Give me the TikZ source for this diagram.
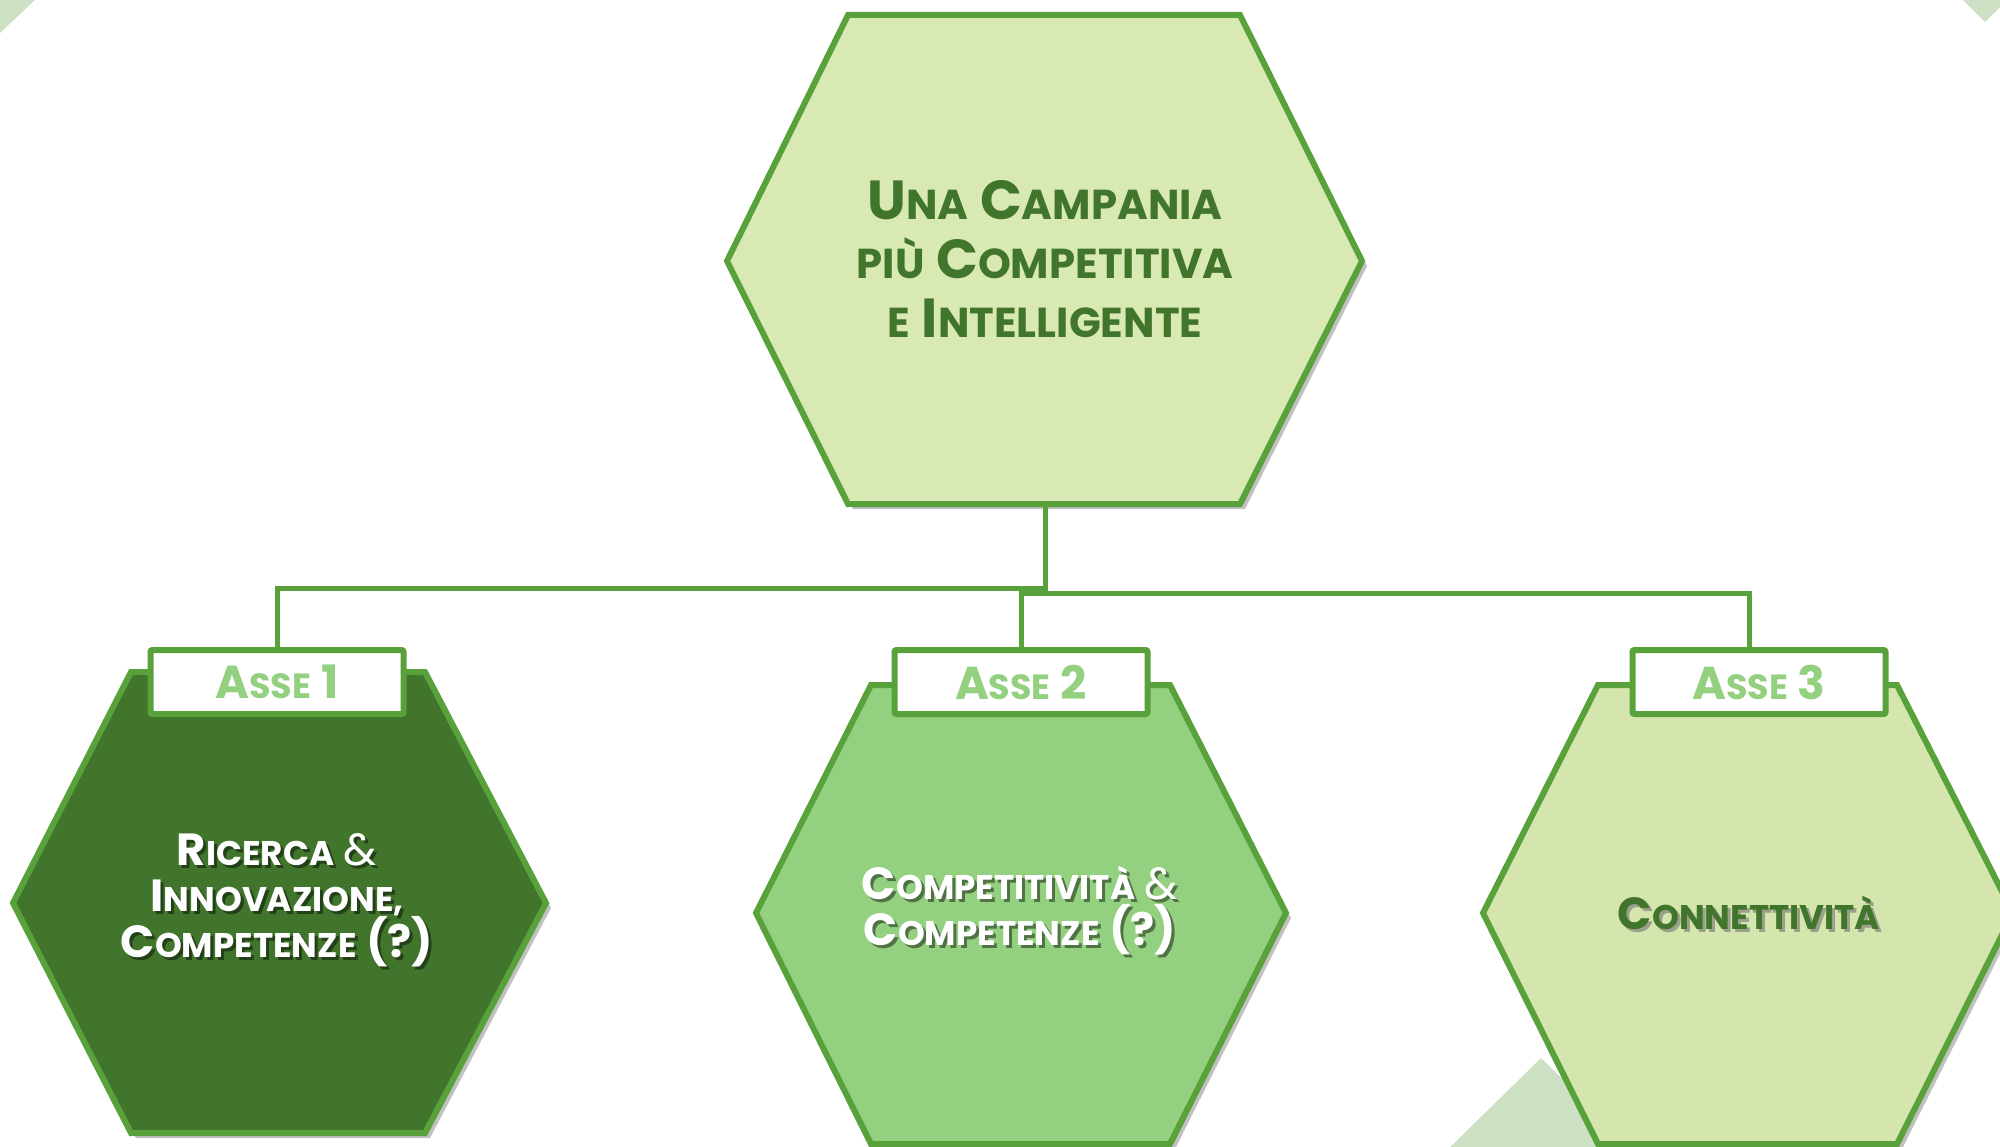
\documentclass[tikz,border=0pt]{standalone}
\usepackage{fontspec}
\usepackage{graphicx}
\setmainfont{Poppins}
\usetikzlibrary{shadows}
\definecolor{bord}{HTML}{58A13B}
\definecolor{topfill}{HTML}{D8E9B3}
\definecolor{darkg}{HTML}{41752C}
\definecolor{midg}{HTML}{93D07F}
\definecolor{lightfill}{HTML}{D4E6AD}
\definecolor{bgtri}{HTML}{CCE1C4}
\newcommand\SC[1]{\scalebox{0.76}{#1}}
\newcommand\amp{{\mdseries\&}}
\newcommand\tOne{R\SC{ICERCA} \amp\\I\SC{NNOVAZIONE,}\\C\SC{OMPETENZE} (?)}
\newcommand\tTwo{C\SC{OMPETITIVIT\`A} \amp\\C\SC{OMPETENZE} (?)}
\newcommand\tThree{C\SC{ONNETTIVIT\`A}}
\tikzset{
  hexa/.style={draw=bord, line width=6, drop shadow={shadow xshift=5pt, shadow yshift=-5pt, opacity=0.35, fill=black!70}},
  conn/.style={draw=bord, line width=5},
  asse/.style={draw=bord, line width=6, fill=white, minimum width=253, minimum height=64, inner sep=0, rounded corners=2,
    text=midg, font=\fontsize{46}{50}\selectfont\bfseries},
  toptxt/.style={text=darkg, align=center, font=\fontsize{55}{59}\selectfont\bfseries},
  bottxt/.style={align=center, font=\fontsize{45}{46}\selectfont\bfseries},
  shadowtxt/.style={bottxt, text=black, opacity=0.45}
}
\begin{document}
\begin{tikzpicture}[x=1pt,y=-1pt]
\useasboundingbox (0,0) rectangle (2000,1147);
\clip (0,0) rectangle (2000,1147);
% background decorations
\fill[bgtri] (0,0) -- (35,0) -- (0,33) -- cycle;
\fill[bgtri] (1963,0) -- (1985,22) -- (2000,7) -- (2000,0) -- cycle;
\fill[bgtri] (1541,1058) -- (1645,1160) -- (1437,1160) -- cycle;
% top hexagon
\draw[hexa, fill=topfill] (848,15) -- (1240,15) -- (1362,261) -- (1240,504) -- (848,504) -- (727,261) -- cycle;
\coordinate (tb) at (1045,504);
\node[toptxt] (ttext) at (1045,259) {U\SC{NA} C\SC{AMPANIA}\\\SC{PI\`U} C\SC{OMPETITIVA}\\\SC{E} I\SC{NTELLIGENTE}};
% bottom hexagons
\draw[hexa, fill=darkg] (131,672) -- (425,672) -- (546,903) -- (425,1133) -- (131,1133) -- (13,903) -- cycle;
\draw[hexa, fill=midg] (871,685) -- (1170,685) -- (1286,913) -- (1170,1144) -- (871,1144) -- (756,913) -- cycle;
\draw[hexa, fill=lightfill] (1598,685) -- (1897,685) -- (2013,913) -- (1897,1144) -- (1598,1144) -- (1483,913) -- cycle;
% texts
\node[shadowtxt] (t1s) at (280,903) {\tOne};
\node[bottxt, text=white] (t1) at (277,900) {\tOne};
\node[shadowtxt] (t2s) at (1023,914) {\tTwo};
\node[bottxt, text=white] (t2) at (1020,911) {\tTwo};
\node[bottxt, text=black!55, opacity=0.6] (t3s) at (1752,916) {\tThree};
\node[bottxt, text=darkg] (t3) at (1749,913) {\tThree};
% asse labels
\node[asse] (a1) at (277,682) {A\SC{SSE} 1};
\node[asse] (a2) at (1021,682) {A\SC{SSE} 2};
\node[asse] (a3) at (1759,682) {A\SC{SSE} 3};
% connectors
\coordinate (jl) at (1045,588);
\coordinate (jr) at (1045,593);
\coordinate (a3in) at (1749,648);
\draw[conn] (tb) -- (jr);
\draw[conn] (a1.north) |- (jl);
\draw[conn] (a2.north) |- (a3in |- jr) -- (a3in);
\end{tikzpicture}
\end{document}
